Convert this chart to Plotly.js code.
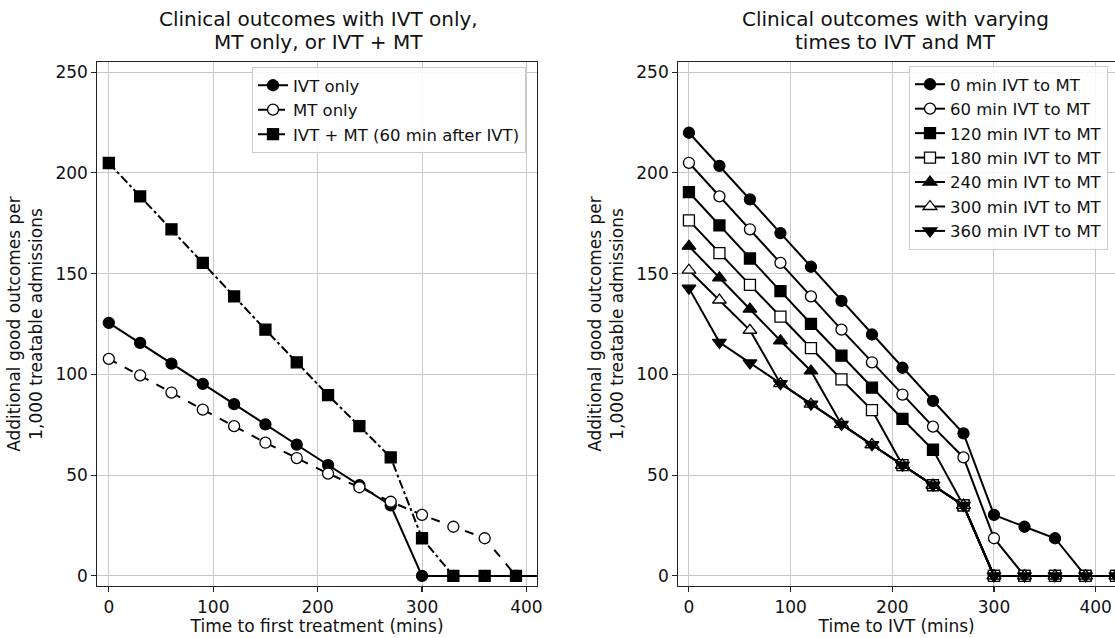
<!DOCTYPE html>
<html>
<head>
<meta charset="utf-8">
<script src="https://cdn.plot.ly/plotly-3.0.1.min.js"></script>
<style>html,body{margin:0;padding:0;background:#fff;}#chart{width:1115px;height:638px;}</style>
</head>
<body>
<div id="chart"></div>
<script>
// ---- Data ----
const timesLeftA = [0, 30, 60, 90, 120, 150, 180, 210, 240, 270, 300, 330, 360, 390, 420];
const timesLeftB = [0, 30, 60, 90, 120, 150, 180, 210, 240, 270, 300, 330, 360, 390];
const ivtOnly = [125.6, 115.6, 105.3, 95.3, 85.2, 75.2, 65.1, 55.0, 45.0, 35.0, 0, 0, 0, 0, 0];
const mtOnly = [107.7, 99.5, 91.0, 82.5, 74.3, 66.1, 58.5, 50.8, 44.0, 36.8, 30.3, 24.4, 18.7, 0];
const ivtPlusMt = [204.9, 188.3, 172.0, 155.3, 138.7, 122.2, 106.0, 89.7, 74.3, 58.8, 18.7, 0, 0, 0];

const timesRight = [0, 30, 60, 90, 120, 150, 180, 210, 240, 270, 300, 330, 360, 390, 420];
const gap0 = [219.9, 203.5, 186.8, 170.1, 153.4, 136.5, 119.8, 103.3, 86.9, 70.7, 30.3, 24.4, 18.7, 0, 0];
const gap60 = [205.0, 188.3, 172.0, 155.3, 138.7, 122.2, 106.0, 90.0, 74.1, 58.8, 18.7, 0, 0, 0, 0];
const gap120 = [190.4, 173.9, 157.5, 141.3, 125.1, 109.3, 93.4, 77.9, 62.6, 35.0, 0, 0, 0, 0, 0];
const gap180 = [176.4, 160.2, 144.4, 128.7, 113.0, 97.5, 82.3, 55.0, 45.0, 35.0, 0, 0, 0, 0, 0];
const gap240 = [163.6, 147.9, 132.4, 116.7, 101.7, 75.2, 65.1, 55.0, 45.0, 35.0, 0, 0, 0, 0, 0];
const gap300 = [151.7, 136.9, 121.9, 95.4, 85.2, 75.2, 65.1, 55.0, 45.0, 35.0, 0, 0, 0, 0, 0];
const gap360 = [142.8, 115.9, 105.7, 95.4, 85.2, 75.2, 65.1, 55.0, 45.0, 35.0, 0, 0, 0, 0, 0];

const leftNames = ['IVT only', 'MT only', 'IVT + MT (60 min after IVT)'];
const rightNames = ['0 min IVT to MT', '60 min IVT to MT', '120 min IVT to MT', '180 min IVT to MT',
                    '240 min IVT to MT', '300 min IVT to MT', '360 min IVT to MT'];
const yTicks = [0, 50, 100, 150, 200, 250];
const xTicks = [0, 100, 200, 300, 400];
const leftTitleLines = ['Clinical outcomes with IVT only,', 'MT only, or IVT + MT'];
const rightTitleLines = ['Clinical outcomes with varying', 'times to IVT and MT'];

// ---- Styling helpers ----
const FONT = 'DejaVu Sans, Liberation Sans, sans-serif';
const FS = 17;
function trace(x, y, name, sym, filled, dash, axisSuffix, legendId, grp) {
  return {
    x: x, y: y, name: name, type: 'scatter', mode: 'lines+markers',
    xaxis: 'x' + axisSuffix, yaxis: 'y' + axisSuffix,
    legend: legendId, legendgroup: grp,
    line: {color: 'black', width: 2, dash: dash},
    marker: {symbol: sym, size: sym.indexOf('triangle') >= 0 ? 12 : 11,
             color: filled ? 'black' : 'white', line: {color: 'black', width: 1.3}},
    cliponaxis: true
  };
}

const data = [
  trace(timesLeftA, ivtOnly, leftNames[0], 'circle', true, 'solid', '', 'legend', 'a'),
  trace(timesLeftB, mtOnly, leftNames[1], 'circle', false, 'dash', '', 'legend', 'b'),
  trace(timesLeftB, ivtPlusMt, leftNames[2], 'square', true, 'dashdot', '', 'legend', 'c'),
  trace(timesRight, gap0, rightNames[0], 'circle', true, 'solid', '2', 'legend2', 'r0'),
  trace(timesRight, gap60, rightNames[1], 'circle', false, 'solid', '2', 'legend2', 'r1'),
  trace(timesRight, gap120, rightNames[2], 'square', true, 'solid', '2', 'legend2', 'r2'),
  trace(timesRight, gap180, rightNames[3], 'square', false, 'solid', '2', 'legend2', 'r3'),
  trace(timesRight, gap240, rightNames[4], 'triangle-up', true, 'solid', '2', 'legend2', 'r4'),
  trace(timesRight, gap300, rightNames[5], 'triangle-up', false, 'solid', '2', 'legend2', 'r5'),
  trace(timesRight, gap360, rightNames[6], 'triangle-down', true, 'solid', '2', 'legend2', 'r6')
];

function xAxis(domain, range, label, anchor) {
  return {
    domain: domain, range: range, anchor: anchor,
    tickvals: xTicks, ticks: 'outside', ticklen: 5, tickwidth: 1.1, tickcolor: '#222',
    showline: true, linecolor: '#222', linewidth: 1.1, mirror: true,
    showgrid: true, gridcolor: '#c8c8c8', gridwidth: 1, zeroline: false,
    tickfont: {family: FONT, size: FS, color: '#111'},
    title: {text: label, font: {family: FONT, size: FS, color: '#111'}, standoff: 2},
    automargin: false
  };
}
function yAxis(anchor) {
  return {
    domain: [0.0815, 0.9028], range: [-5, 255], anchor: anchor,
    tickvals: yTicks, ticks: 'outside', ticklen: 5, tickwidth: 1.1, tickcolor: '#222',
    showline: true, linecolor: '#222', linewidth: 1.1, mirror: true,
    showgrid: true, gridcolor: '#c8c8c8', gridwidth: 1, zeroline: false,
    tickfont: {family: FONT, size: FS, color: '#111'},
    title: {text: 'Additional good outcomes per<br>1,000 treatable admissions',
            font: {family: FONT, size: FS, color: '#111'}, standoff: 8},
    automargin: false
  };
}

const legendCommon = {
  bgcolor: 'rgba(255,255,255,0.85)', bordercolor: '#cccccc', borderwidth: 1,
  font: {family: FONT, size: 16.5, color: '#111'},
  traceorder: 'grouped', tracegroupgap: 0,
  xref: 'paper', yref: 'paper', yanchor: 'top'
};

function titleAnn(text, xpx, ypx) {
  return {text: text, xref: 'paper', yref: 'paper', x: xpx / 1115, y: 1 - ypx / 638,
          xanchor: 'center', yanchor: 'middle', showarrow: false,
          font: {family: FONT, size: 20, color: '#111'}};
}

const layout = {
  width: 1115, height: 638,
  margin: {l: 0, r: 0, t: 0, b: 0},
  paper_bgcolor: 'white', plot_bgcolor: 'white',
  showlegend: true,
  xaxis: xAxis([0.0873, 0.4815], [-11, 410], 'Time to first treatment (mins)', 'y'),
  yaxis: yAxis('x'),
  xaxis2: xAxis([0.6083, 1.0], [-10.5, 419], 'Time to IVT (mins)', 'y2'),
  yaxis2: yAxis('x2'),
  legend: Object.assign({}, legendCommon, {x: 526 / 1115, xanchor: 'right', y: 1 - 67 / 638}),
  legend2: Object.assign({}, legendCommon, {x: 1108 / 1115, xanchor: 'right', y: 1 - 66 / 638}),
  annotations: [
    titleAnn(leftTitleLines[0], 318, 19),
    titleAnn(leftTitleLines[1], 318, 42),
    titleAnn(rightTitleLines[0], 895, 19),
    titleAnn(rightTitleLines[1], 895, 42)
  ]
};

Plotly.newPlot('chart', data, layout, {staticPlot: true, displayModeBar: false});
</script>
</body>
</html>
